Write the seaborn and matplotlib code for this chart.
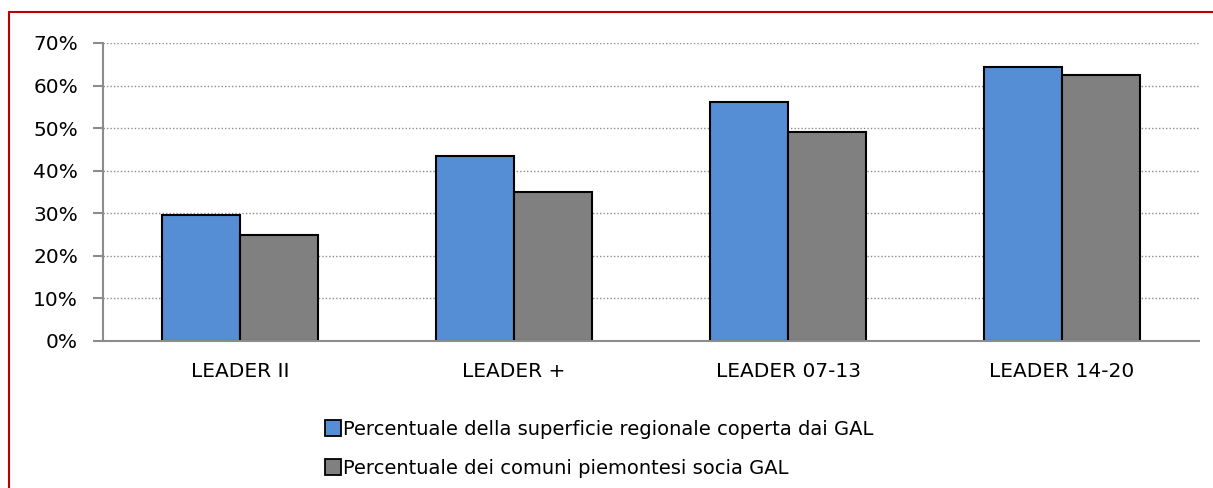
import matplotlib
matplotlib.use("Agg")
import matplotlib.pyplot as plt
import matplotlib.lines as mlines
import seaborn as sns
import pandas as pd
from matplotlib.ticker import PercentFormatter, FixedLocator

# dati
periodi = ["LEADER II", "LEADER +", "LEADER 07-13", "LEADER 14-20"]
serie_superficie = [0.295, 0.435, 0.562, 0.643]
serie_comuni = [0.250, 0.350, 0.491, 0.624]
nome_superficie = "Percentuale della superficie regionale coperta dai GAL"
nome_comuni = "Percentuale dei comuni piemontesi socia GAL"
tick_y = [0, 0.1, 0.2, 0.3, 0.4, 0.5, 0.6, 0.7]

df = pd.DataFrame({
    "periodo": periodi * 2,
    "valore": serie_superficie + serie_comuni,
    "serie": [nome_superficie] * len(periodi) + [nome_comuni] * len(periodi),
})

sns.set_style("white")
plt.rcParams["font.family"] = ["DejaVu Sans"]

fig = plt.figure(figsize=(12.13, 4.88), dpi=100)
ax = fig.add_axes([103 / 1213, 1 - 341 / 488, (1199 - 103) / 1213, (341 - 43) / 488])

sns.barplot(data=df, x="periodo", y="valore", hue="serie", ax=ax,
            palette=["#558ED5", "#808080"], width=0.57,
            edgecolor="black", linewidth=1.5, saturation=1, legend=True)

ax.set_ylim(0, 0.7)
ax.set_xlim(-0.5, len(periodi) - 0.5)
ax.yaxis.set_major_locator(FixedLocator(tick_y))
ax.yaxis.set_major_formatter(PercentFormatter(1.0, decimals=0))
ax.set_xlabel("")
ax.set_ylabel("")

# griglia tratteggiata
ax.set_axisbelow(True)
ax.yaxis.grid(True, linestyle=(0, (1, 1.5)), color="#8c8c8c", linewidth=1)
ax.xaxis.grid(False)

for lato in ["top", "right"]:
    ax.spines[lato].set_visible(False)
for lato in ["left", "bottom"]:
    ax.spines[lato].set_color("#8c8c8c")
    ax.spines[lato].set_linewidth(1.5)

# tacche ai confini delle categorie
ax.set_xticks([i - 0.5 for i in range(len(periodi) + 1)], minor=True)
ax.tick_params(axis="x", which="minor", length=6, width=1.5, color="#8c8c8c", direction="out")
ax.tick_params(axis="x", which="major", length=0, pad=15, labelsize=14.5, labelcolor="#000000")
ax.tick_params(axis="y", which="major", length=7, width=1.5, color="#8c8c8c", direction="out",
               left=True, pad=11, labelsize=14.5, labelcolor="#000000")

# legenda sotto il grafico
ax.get_legend().remove()
handles = [
    mlines.Line2D([], [], marker="s", linestyle="none", markersize=11,
                  markerfacecolor="#558ED5", markeredgecolor="black", markeredgewidth=1.3),
    mlines.Line2D([], [], marker="s", linestyle="none", markersize=11,
                  markerfacecolor="#808080", markeredgecolor="black", markeredgewidth=1.3),
]
fig.legend(handles, [nome_superficie, nome_comuni], loc="center left",
           bbox_to_anchor=(326 / 1213, 1 - 449 / 488), frameon=False,
           fontsize=14, labelcolor="#000000", handlelength=0.75, handletextpad=0.1,
           labelspacing=1.0, borderpad=0, borderaxespad=0)

# cornice rossa
fig.add_artist(mlines.Line2D([9 / 1213, 1], [1 - 12 / 488, 1 - 12 / 488],
                             color="#C00000", linewidth=1.5, transform=fig.transFigure))
fig.add_artist(mlines.Line2D([9 / 1213, 9 / 1213], [0, 1 - 12 / 488],
                             color="#C00000", linewidth=1.5, transform=fig.transFigure))

plt.savefig("out.png", dpi=100)
plt.close()
